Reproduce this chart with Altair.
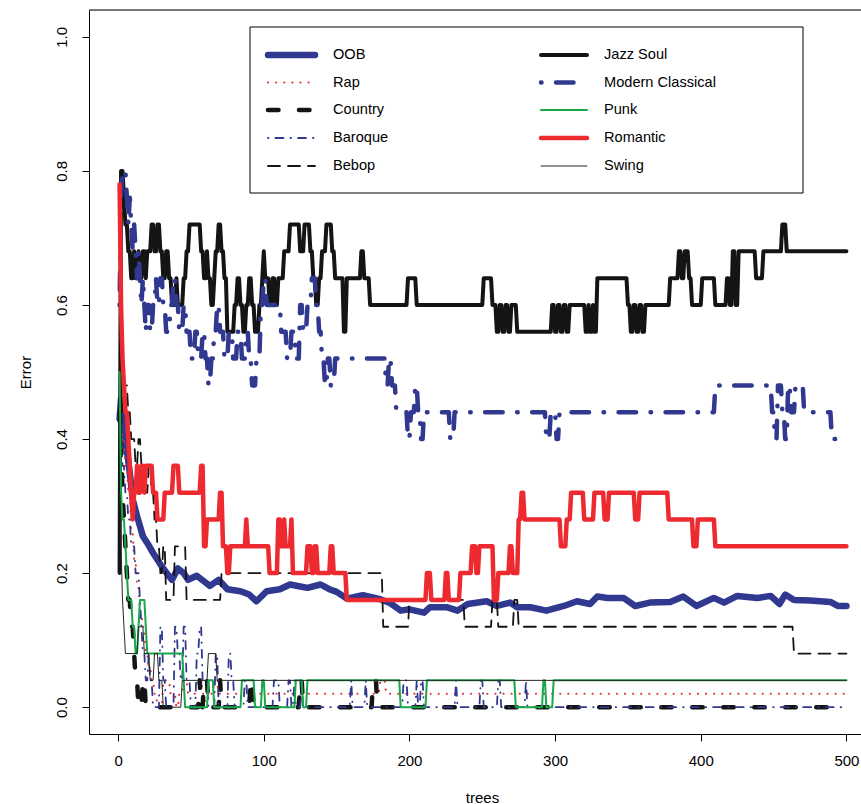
import altair as alt
import pandas as pd

# ---------------- data ----------------
# step series: (tree where the value starts, error value)
SERIES = ["OOB", "Rap", "Country", "Baroque", "Bebop",
          "Jazz Soul", "Modern Classical", "Punk", "Romantic", "Swing"]

OOB = [(1, .43), (2, .46), (3, .44), (5, .40), (8, .35), (10, .31), (13, .285), (17, .255),
       (20, .245), (24, .23), (30, .21), (35, .195), (37, .19), (41, .207), (45, .20), (48, .19),
       (54, .196), (60, .186), (63, .181), (69, .19), (75, .176), (84, .173), (90, .168),
       (95, .158), (102, .173), (111, .176), (118, .183), (125, .18), (130, .178), (139, .183),
       (145, .176), (150, .172), (157, .162), (168, .167), (180, .161), (187, .155), (194, .144),
       (200, .146), (210, .141), (214, .149), (226, .149), (233, .144), (240, .154), (253, .158),
       (260, .151), (269, .156), (274, .149), (283, .149), (294, .144), (306, .151), (315, .158),
       (324, .154), (329, .165), (336, .163), (347, .163), (355, .151), (365, .156), (379, .157),
       (388, .165), (397, .151), (409, .163), (416, .156), (425, .166), (439, .163), (448, .166),
       (454, .154), (458, .168), (464, .16), (475, .159), (489, .157), (494, .151), (500, .151)]

RAP = [(1, .44), (3, .40), (5, .36), (7, .32), (9, .26), (11, .22), (13, .18), (15, .14), (17, .12),
       (19, .08), (21, .06), (23, .04), (25, .02), (27, .0), (31, .04), (36, .02), (40, .0), (42, .02),
       (45, .04), (48, .02), (56, .04), (58, .02), (60, .0), (62, .02), (66, .04), (69, .02),
       (180, .04), (184, .02)]

COUNTRY = [(1, .44), (2, .40), (3, .32), (4, .28), (5, .24), (6, .20), (7, .16), (9, .12), (11, .08),
           (12, .04), (14, .0), (17, .04), (19, .0), (56, .04), (57, .0), (59, .04), (62, .0),
           (70, .04), (71, .0), (91, .04), (93, .0), (125, .04), (127, .0), (175, .04), (178, .0)]

BAROQUE = [(1, .44), (3, .36), (5, .32), (7, .28), (9, .24), (12, .20), (15, .16), (16, .12), (17, .08),
           (19, .04), (21, .08), (22, .04), (24, .0), (29, .12), (31, .04), (33, .0), (39, .12),
           (41, .08), (43, .04), (45, .12), (47, .04), (50, .0), (54, .08), (56, .12), (58, .04),
           (62, .0), (67, .08), (69, .0), (76, .08), (78, .04), (80, .0), (87, .04), (89, .0),
           (107, .04), (111, .0), (117, .04), (119, .0), (121, .04), (122, .0), (126, .04), (127, .0),
           (160, .04), (161, .0), (170, .04), (171, .0), (196, .04), (199, .0), (205, .04), (206, .0),
           (208, .04), (210, .0), (232, .04), (233, .0), (249, .04), (251, .0), (261, .04), (263, .0),
           (280, .04), (281, .0)]

BEBOP = [(1, .32), (2, .44), (4, .48), (7, .44), (9, .40), (12, .36), (14, .40), (16, .36), (19, .32),
         (21, .36), (23, .32), (25, .28), (27, .24), (29, .20), (31, .24), (33, .16), (39, .24),
         (47, .16), (71, .20), (182, .12), (200, .16), (238, .12), (257, .16), (261, .12),
         (272, .16), (275, .12), (464, .08)]

JAZZ_SOUL = [(1, .20), (2, .80), (4, .76), (5, .72), (7, .68), (9, .64), (11, .68), (12, .64), (14, .68),
             (15, .64), (17, .68), (19, .64), (20, .68), (23, .72), (25, .68), (27, .72), (29, .68),
             (31, .64), (33, .68), (35, .64), (37, .60), (40, .64), (41, .60), (45, .64), (47, .68),
             (49, .72), (57, .68), (59, .64), (61, .68), (62, .64), (64, .60), (66, .64), (67, .68),
             (69, .72), (71, .68), (73, .64), (75, .56), (80, .60), (82, .64), (84, .60), (86, .56),
             (88, .60), (90, .64), (92, .60), (94, .56), (97, .60), (99, .64), (100, .68), (101, .64),
             (104, .60), (106, .64), (108, .60), (110, .64), (114, .68), (118, .72), (125, .68),
             (128, .72), (132, .68), (134, .64), (136, .60), (138, .64), (140, .68), (143, .72),
             (147, .68), (149, .64), (155, .56), (157, .64), (167, .68), (169, .64), (173, .60),
             (199, .64), (205, .60), (251, .64), (257, .60), (260, .56), (262, .60), (264, .56),
             (266, .60), (268, .56), (270, .60), (274, .56), (298, .60), (300, .56), (302, .60),
             (304, .56), (306, .60), (308, .56), (310, .60), (321, .56), (323, .60), (324, .56),
             (326, .60), (327, .56), (329, .64), (350, .60), (352, .56), (354, .60), (356, .56),
             (358, .60), (360, .56), (362, .60), (379, .64), (385, .68), (387, .64), (389, .68),
             (392, .64), (394, .60), (401, .64), (410, .60), (418, .64), (420, .60), (422, .68),
             (424, .60), (426, .68), (438, .64), (443, .68), (456, .72), (459, .68)]

MODERN_CLASSICAL = [(1, .60), (2, .76), (3, .80), (6, .76), (7, .72), (8, .76), (9, .72), (10, .68),
                    (11, .72), (12, .68), (13, .64), (14, .68), (15, .64), (16, .60), (17, .64),
                    (18, .60), (19, .56), (20, .60), (22, .56), (24, .60), (26, .64), (27, .60),
                    (29, .64), (31, .60), (33, .56), (36, .60), (38, .64), (40, .60), (42, .56),
                    (45, .60), (47, .56), (50, .52), (53, .56), (55, .52), (58, .56), (60, .52),
                    (62, .48), (64, .52), (66, .56), (68, .60), (70, .56), (73, .52), (76, .56),
                    (79, .52), (82, .56), (85, .52), (88, .56), (90, .52), (92, .48), (95, .52),
                    (98, .60), (100, .64), (102, .60), (112, .56), (116, .52), (119, .56), (122, .52),
                    (125, .60), (127, .56), (130, .60), (133, .64), (136, .60), (138, .56), (140, .52),
                    (142, .48), (144, .52), (146, .48), (149, .52), (184, .48), (186, .52), (188, .48),
                    (191, .44), (199, .40), (201, .44), (204, .48), (206, .44), (208, .40), (210, .44),
                    (228, .40), (231, .44), (294, .40), (297, .44), (301, .40), (303, .44), (410, .48),
                    (449, .44), (451, .40), (453, .48), (456, .44), (458, .40), (460, .48), (462, .44),
                    (465, .48), (471, .44), (490, .40)]

PUNK = [(1, .50), (2, .32), (3, .28), (5, .24), (6, .20), (7, .16), (10, .12), (12, .08), (14, .12),
        (15, .16), (19, .12), (20, .08), (45, .04), (46, .0), (62, .04), (66, .0), (85, .04), (94, .0),
        (99, .04), (101, .0), (122, .04), (127, .0), (130, .04), (194, .0), (212, .04), (273, .0),
        (292, .04), (294, .0), (299, .04)]

ROMANTIC = [(1, .78), (2, .60), (3, .52), (4, .48), (5, .44), (7, .40), (8, .36), (9, .32), (10, .28),
            (11, .32), (13, .36), (14, .32), (16, .36), (18, .32), (19, .36), (24, .32), (27, .28),
            (32, .32), (38, .36), (42, .32), (57, .36), (59, .24), (61, .28), (70, .32), (72, .24),
            (75, .20), (77, .24), (88, .28), (89, .24), (104, .20), (110, .28), (112, .24), (114, .28),
            (115, .24), (119, .28), (120, .20), (130, .24), (133, .20), (135, .24), (137, .20),
            (146, .24), (148, .20), (157, .16), (212, .20), (215, .16), (225, .20), (227, .16),
            (235, .20), (243, .24), (246, .20), (248, .24), (258, .16), (261, .20), (269, .24),
            (271, .20), (275, .28), (277, .32), (279, .28), (304, .24), (308, .28), (311, .32),
            (320, .28), (327, .32), (334, .28), (337, .32), (355, .28), (358, .32), (378, .28),
            (395, .24), (398, .28), (410, .24)]

SWING = [(1, .32), (2, .24), (3, .16), (4, .12), (5, .08), (14, .12), (18, .08), (22, .04), (25, .08),
         (28, .04), (31, .0), (44, .04), (62, .08), (68, .04)]

STEP_DATA = {"Rap": RAP, "Country": COUNTRY, "Baroque": BAROQUE, "Bebop": BEBOP,
             "Jazz Soul": JAZZ_SOUL, "Modern Classical": MODERN_CLASSICAL, "Punk": PUNK,
             "Romantic": ROMANTIC, "Swing": SWING}
N_TREES = 500


def step_vertices(steps):
    """R joins consecutive trees: a value holds until the tree before the next change."""
    pts = []
    for i, (t, v) in enumerate(steps):
        pts.append((t, v))
        nxt = steps[i + 1][0] if i + 1 < len(steps) else N_TREES + 1
        if nxt - 1 > t:
            pts.append((nxt - 1, v))
    return pts


rows = []
for name in SERIES:
    pts = OOB if name == "OOB" else step_vertices(STEP_DATA[name])
    for i, (t, v) in enumerate(pts):
        rows.append({"series": name, "tree": t, "err": v, "i": i})
df = pd.DataFrame(rows)

# ---------------- styles ----------------
BLUE = "#30388f"
RED = "#ec2a2f"
GREEN = "#18a84a"
BLACK = "#141414"
STYLE = {
    "OOB": dict(color=BLUE, strokeWidth=6.5),
    "Rap": dict(color=RED, strokeWidth=2.1, strokeDash=[0.1, 8]),
    "Country": dict(color=BLACK, strokeWidth=4.5, strokeDash=[10.5, 20.5]),
    "Baroque": dict(color=BLUE, strokeWidth=1.8, strokeDash=[0.5, 7, 8, 7]),
    "Bebop": dict(color=BLACK, strokeWidth=1.8, strokeDash=[12, 8]),
    "Jazz Soul": dict(color=BLACK, strokeWidth=4),
    "Modern Classical": dict(color=BLUE, strokeWidth=4.5, strokeDash=[0.5, 14.5, 17.5, 14.5]),
    "Punk": dict(color=GREEN, strokeWidth=2),
    "Romantic": dict(color=RED, strokeWidth=4.5),
    "Swing": dict(color="#262626", strokeWidth=1),
}

FONT = "Liberation Sans"
W, H = 772, 724

xs = alt.Scale(domain=[-20, 510], nice=False, zero=False)
ys = alt.Scale(domain=[-0.04, 1.04], nice=False, zero=False)
x_enc = alt.X("tree:Q", scale=xs,
              axis=alt.Axis(values=[0, 100, 200, 300, 400, 500], title="trees", grid=False,
                            domain=True, domainColor="black", tickColor="black", tickSize=7,
                            labelFont=FONT, labelFontSize=15, labelColor="black",
                            labelBaseline="middle", labelPadding=19, labelFlush=False,
                            labelOverlap=False, titleFont=FONT, titleFontSize=15,
                            titleFontWeight="normal", titleColor="black", titleX=393,
                            titleY=63, titleBaseline="middle"))
y_enc = alt.Y("err:Q", scale=ys,
              axis=alt.Axis(values=[0, 0.2, 0.4, 0.6, 0.8, 1.0], format=".1f", title="Error",
                            grid=False, domain=True, domainColor="black", tickColor="black",
                            tickSize=7, labelFont=FONT, labelFontSize=15, labelColor="black",
                            labelAngle=270, labelAlign="center", labelBaseline="middle",
                            labelPadding=21, labelFlush=False, labelOverlap=False,
                            titleFont=FONT, titleFontSize=15, titleFontWeight="normal",
                            titleColor="black", titleAngle=270, titleX=-64, titleY=362,
                            titleBaseline="middle"))

layers = []
for name in SERIES:
    st = STYLE[name]
    layers.append(
        alt.Chart(df).transform_filter(alt.datum.series == name)
        .mark_line(strokeCap="round", strokeJoin="round", clip=True, **st)
        .encode(x=x_enc, y=y_enc, order="i:Q")
    )

one = alt.InlineData(values=[{"a": 0}])
# top frame line
layers.append(alt.Chart(one).mark_rule(color="black", strokeWidth=1)
              .encode(x=alt.value(0), x2=alt.value(W), y=alt.value(0)))

# legend (two columns, like R's legend(ncol=2))
LEG_BOX = (161, 17, 714, 183)
layers.append(alt.Chart(one).mark_rect(filled=False, stroke="black", strokeWidth=1)
              .encode(x=alt.value(LEG_BOX[0]), x2=alt.value(LEG_BOX[2]),
                      y=alt.value(LEG_BOX[1]), y2=alt.value(LEG_BOX[3])))
row_y = [45, 72.5, 100, 128, 156]
col_x = [(179, 226, 244), (452, 498, 515)]
for k, name in enumerate(SERIES):
    c, r = divmod(k, 5)
    x0, x1, xt = col_x[c]
    st = STYLE[name]
    layers.append(alt.Chart(one).mark_rule(strokeCap="round", **st)
                  .encode(x=alt.value(x0), x2=alt.value(x1), y=alt.value(row_y[r])))
    layers.append(alt.Chart(one).mark_text(text=name, align="left", baseline="middle", font=FONT,
                                           fontSize=14.6, color="black")
                  .encode(x=alt.value(xt), y=alt.value(row_y[r])))

chart = alt.layer(*layers).properties(
    width=W, height=H,
    padding={"left": 89, "top": 10, "right": 0, "bottom": 70},
    autosize=alt.AutoSizeParams(type="none"),
).configure_view(stroke=None).configure(background="white")

chart.save("out.html", embed_options={"renderer": "svg", "actions": False})
